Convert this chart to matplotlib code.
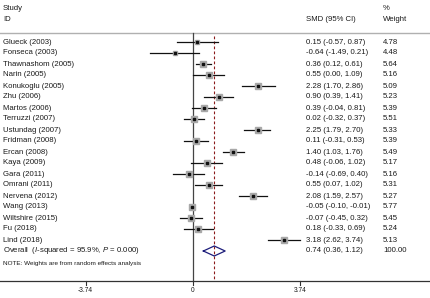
import matplotlib
matplotlib.use("Agg")
import matplotlib.pyplot as plt
import numpy as np

plt.rcParams['font.family'] = ['Liberation Sans', 'DejaVu Sans']
plt.rcParams['mathtext.fontset'] = 'custom'
plt.rcParams['mathtext.rm'] = 'Liberation Sans'
plt.rcParams['mathtext.it'] = 'Liberation Sans:italic'

studies = ["Glueck (2003)", "Fonseca (2003)", "Thawnashom (2005)", "Narin (2005)",
           "Konukoglu (2005)", "Zhu (2006)", "Martos (2006)", "Terruzzi (2007)",
           "Ustundag (2007)", "Fridman (2008)", "Ercan (2008)", "Kaya (2009)",
           "Gara (2011)", "Omrani (2011)", "Nervena (2012)", "Wang (2013)",
           "Wiltshire (2015)", "Fu (2018)", "Lind (2018)"]
smd = [0.15, -0.64, 0.36, 0.55, 2.28, 0.90, 0.39, 0.02, 2.25, 0.11, 1.40, 0.48,
       -0.14, 0.55, 2.08, -0.05, -0.07, 0.18, 3.18]
lo = [-0.57, -1.49, 0.12, 0.00, 1.70, 0.39, -0.04, -0.32, 1.79, -0.31, 1.03, -0.06,
      -0.69, 0.07, 1.59, -0.10, -0.45, -0.33, 2.62]
hi = [0.87, 0.21, 0.61, 1.09, 2.86, 1.41, 0.81, 0.37, 2.70, 0.53, 1.76, 1.02,
      0.40, 1.02, 2.57, -0.01, 0.32, 0.69, 3.74]
weights = [4.78, 4.48, 5.64, 5.16, 5.09, 5.23, 5.39, 5.51, 5.33, 5.39, 5.49, 5.17,
           5.16, 5.31, 5.27, 5.77, 5.45, 5.24, 5.13]
overall = 0.74
overall_lo = 0.36
overall_hi = 1.12
overall_label = "Overall  ($\\it{I}$-squared = 95.9%, $\\it{P}$ = 0.000)"
xticks = [-3.74, 0, 3.74]
xticklabels = ["-3.74", "0", "3.74"]

W, H = 430, 298
fig = plt.figure(figsize=(W / 100, H / 100), dpi=100)
ax = fig.add_axes([0, 0, 1, 1])
ppu = 28.7
x0 = 193
ax.set_xlim(-x0 / ppu, (W - x0) / ppu)
ax.set_ylim(H, 0)
ax.axis('off')

tr = ax.get_yaxis_transform()  # x axes fraction, y data

def px(xp):
    return xp / W

fs = 5.6
tc = '#1a1a1a'
row0 = 42
step = 11.0
ys = [row0 + i * step for i in range(len(studies))]
y_over = row0 + len(studies) * step
y_note = y_over + 13
y_axis = 281

# headers
ax.text(px(3), 8, "Study", transform=tr, fontsize=fs, va='center', ha='left', color=tc)
ax.text(px(3), 19.5, "ID", transform=tr, fontsize=fs, va='center', ha='left', color=tc)
ax.text(px(306), 19.5, "SMD (95% CI)", transform=tr, fontsize=fs, va='center', ha='left', color=tc)
ax.text(px(383), 8, "%", transform=tr, fontsize=fs, va='center', ha='left', color=tc)
ax.text(px(383), 19.5, "Weight", transform=tr, fontsize=fs, va='center', ha='left', color=tc)
ax.plot([0, 1], [33, 33], transform=tr, color='#b0b0b0', lw=1.0)

# zero line and overall dashed line
ax.plot([0, 0], [33, y_axis], color='#444444', lw=0.9)
ax.plot([overall, overall], [36, y_axis], color='#8b1a1a', lw=0.8, ls=(0, (2.5, 2)))

for i, name in enumerate(studies):
    y = ys[i]
    ax.text(px(3), y, name, transform=tr, fontsize=fs, va='center', ha='left', color=tc)
    ax.text(px(306), y, f"{smd[i]:.2f} ({lo[i]:.2f}, {hi[i]:.2f})", transform=tr,
            fontsize=fs, va='center', ha='left', color=tc)
    ax.text(px(383), y, f"{weights[i]:.2f}", transform=tr, fontsize=fs, va='center',
            ha='left', color=tc)
    ax.plot([lo[i], hi[i]], [y, y], color='#111111', lw=0.9, zorder=2)
    ax.plot([smd[i]], [y], marker='s', ms=weights[i] * 0.72, color='#a8a8a8',
            mec='#a8a8a8', zorder=3)
    ax.plot([smd[i]], [y], marker='s', ms=1.6, color='#111111', zorder=4)

# overall
ax.text(px(3), y_over, overall_label, transform=tr, fontsize=fs, va='center', ha='left', color=tc)
ax.text(px(306), y_over, f"{overall:.2f} ({overall_lo:.2f}, {overall_hi:.2f})", transform=tr,
        fontsize=fs, va='center', ha='left', color=tc)
ax.text(px(383), y_over, "100.00", transform=tr, fontsize=fs, va='center', ha='left', color=tc)
dh = 5
ax.plot([overall_lo, overall, overall_hi, overall, overall_lo],
        [y_over, y_over - dh, y_over, y_over + dh, y_over], color='#1c1c7a', lw=0.9, zorder=5)

ax.text(px(3), y_note, "NOTE: Weights are from random effects analysis", transform=tr,
        fontsize=fs * 0.82, va='center', ha='left', color=tc)

# x axis
ax.plot([0, 1], [y_axis, y_axis], transform=tr, color='#333333', lw=0.9)
for t, lab in zip(xticks, xticklabels):
    ax.plot([t, t], [y_axis, y_axis + 4], color='#333333', lw=0.8)
    ax.text(t, y_axis + 9, lab, fontsize=fs * 0.85, ha='center', va='center', color=tc)

fig.savefig("out.png", dpi=100)
